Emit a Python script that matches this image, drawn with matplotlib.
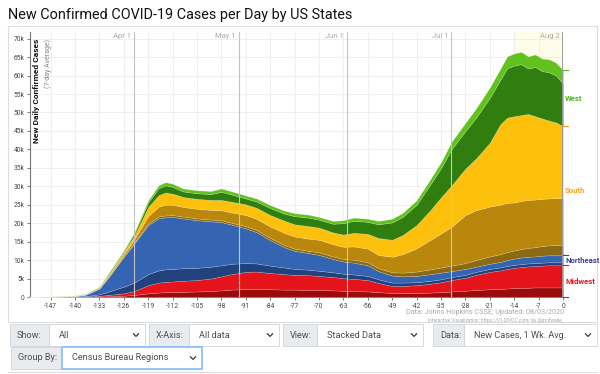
import numpy as np
import matplotlib
matplotlib.use("Agg")
import matplotlib.pyplot as plt
from matplotlib.patches import Rectangle
from matplotlib.lines import Line2D

plt.rcParams['font.family'] = ['Roboto', 'DejaVu Sans']

# days relative to Aug 2 (day 0)
days = [-154, -147, -140, -137, -133, -130, -126, -123, -119, -116, -114, -112,
        -109, -105, -101, -98, -95, -91, -88, -84, -80, -77, -73, -70,
        -66, -63, -60, -56, -53, -49, -46, -42, -38, -35, -32, -28,
        -25, -21, -18, -16, -14, -12, -10, -8, -6, -4, -2, 0]

# region values, thousands of new cases per day (7-day avg)
midwest = [0.01, 0.03, 0.1, 0.15, 0.3, 0.6, 1.0, 1.6, 3.2, 3.9, 4.1, 4.2,
           4.4, 4.6, 5.0, 5.6, 6.2, 6.8, 6.9, 6.5, 6.2, 6.0, 5.9, 5.7,
           5.4, 5.1, 4.9, 4.6, 3.8, 3.0, 3.0, 3.2, 3.6, 4.0, 4.6, 5.2,
           6.0, 6.8, 7.2, 7.6, 7.9, 8.1, 8.3, 8.4, 8.5, 8.6, 8.6, 8.6]
northeast = [0.01, 0.05, 0.15, 0.45, 2.0, 5.2, 9.9, 12.9, 16.3, 17.4, 17.5, 17.5,
             16.9, 16.2, 15.5, 14.7, 13.4, 11.8, 10.7, 8.9, 7.3, 6.5, 6.0, 5.7,
             4.9, 4.5, 4.4, 4.0, 3.2, 2.8, 2.6, 2.5, 2.6, 2.6, 2.4, 2.4,
             2.2, 2.2, 2.3, 2.4, 2.5, 2.6, 2.6, 2.6, 2.7, 2.7, 2.7, 2.7]
south = [0.02, 0.04, 0.1, 0.2, 0.3, 0.7, 1.3, 2.0, 4.9, 6.3, 6.7, 6.3,
         5.8, 5.8, 5.8, 6.0, 6.2, 6.5, 6.6, 6.8, 7.2, 7.2, 7.3, 7.4,
         7.2, 7.3, 8.1, 8.5, 9.0, 9.7, 11.2, 13.8, 17.4, 20.4, 23.2, 27.2,
         29.3, 32.8, 37.3, 38.6, 38.6, 38.6, 38.7, 38.0, 37.2, 36.5, 36.0, 35.0]
west = [0.01, 0.03, 0.05, 0.1, 0.2, 0.5, 0.5, 1.0, 1.8, 2.7, 2.8, 2.7,
        2.3, 2.3, 2.4, 3.1, 2.8, 2.4, 2.5, 2.7, 2.7, 3.0, 3.1, 2.9,
        3.1, 3.9, 4.1, 4.1, 4.6, 5.7, 6.0, 6.7, 8.4, 9.5, 11.8, 12.4,
        13.5, 15.0, 15.0, 16.6, 17.0, 17.1, 15.6, 16.7, 16.2, 16.6, 16.2, 15.1]

# darker state groups inside each region (bottom part of the region)
midwest_dark = [0.0, 0.01, 0.03, 0.05, 0.1, 0.2, 0.35, 0.55, 1.0, 1.2, 1.3, 1.3,
                1.4, 1.5, 1.6, 1.8, 2.0, 2.2, 2.2, 2.1, 2.0, 2.0, 1.9, 1.9,
                1.8, 1.7, 1.6, 1.5, 1.3, 1.1, 1.1, 1.1, 1.2, 1.3, 1.5, 1.7,
                1.9, 2.1, 2.2, 2.3, 2.4, 2.5, 2.5, 2.6, 2.6, 2.6, 2.6, 2.6]
northeast_dark = [0.0, 0.01, 0.03, 0.1, 0.4, 1.0, 1.8, 2.3, 3.0, 3.3, 3.4, 3.4,
                  3.4, 3.3, 3.2, 3.0, 2.8, 2.4, 2.2, 2.0, 1.8, 1.6, 1.5, 1.4,
                  1.3, 1.2, 1.2, 1.1, 1.0, 0.9, 0.9, 0.8, 0.8, 0.8, 0.8, 0.8,
                  0.8, 0.8, 0.8, 0.8, 0.8, 0.8, 0.8, 0.8, 0.8, 0.8, 0.8, 0.8]
south_brown = [0.0, 0.0, 0.01, 0.02, 0.03, 0.07, 0.13, 0.2, 0.4, 0.5, 0.5, 0.5,
               0.5, 0.5, 0.5, 0.5, 0.5, 0.6, 0.6, 0.6, 0.6, 0.6, 0.6, 0.7,
               0.7, 0.7, 0.8, 0.8, 0.8, 0.9, 1.0, 1.2, 1.3, 1.4, 1.5, 1.6,
               1.8, 2.0, 2.1, 2.2, 2.2, 2.3, 2.4, 2.5, 2.6, 2.7, 2.8, 2.8]
south_gold = [0.01, 0.02, 0.04, 0.08, 0.12, 0.3, 0.55, 0.9, 2.0, 2.7, 2.9, 2.8,
              2.6, 2.6, 2.6, 2.7, 2.8, 3.0, 3.0, 3.1, 3.3, 3.3, 3.3, 3.4,
              3.3, 3.3, 3.6, 3.7, 3.6, 4.2, 5.0, 6.3, 8.0, 9.2, 10.5, 13.0,
              13.5, 13.5, 13.4, 13.3, 13.0, 13.0, 13.0, 12.9, 12.8, 12.7, 12.7, 12.6]
west_light = [0.0, 0.01, 0.02, 0.04, 0.08, 0.2, 0.25, 0.4, 0.6, 0.8, 0.85, 0.85,
              0.8, 0.8, 0.8, 0.9, 0.85, 0.8, 0.8, 0.8, 0.8, 0.8, 0.8, 0.75,
              0.75, 0.8, 0.85, 0.85, 0.9, 1.0, 1.1, 1.2, 1.4, 1.6, 2.0, 2.2,
              2.5, 2.8, 3.0, 3.2, 3.3, 3.3, 3.3, 3.4, 3.4, 3.5, 3.5, 3.6]

region_names = ["Midwest", "Northeast", "South", "West"]
region_label_colors = ["#e8141c", "#3d3f9c", "#f5a62a", "#4cb81a"]

months = ["Apr 1", "May 1", "Jun 1", "Jul 1", "Aug 2"]
month_days = [-123, -93, -62, -32, 0]

xticks = list(range(-147, 1, 7))
yticks = list(range(0, 70001, 5000))
ytick_labels = ["0"] + ["%dk" % (v // 1000) for v in yticks[1:]]

title = "New Confirmed COVID-19 Cases per Day by US States"

W, H = 600, 374
fig = plt.figure(figsize=(6, 3.74), dpi=100)


def fx(x):
    return x / W


def fy(y):
    return 1 - y / H


# title and panel frame
fig.text(fx(8), fy(15), title, fontsize=10.4, color="#111111", va="center", ha="left")
fig.patches.append(Rectangle((fx(8), fy(322)), fx(589), 296 / H, transform=fig.transFigure,
                             facecolor="white", edgecolor="#dddddd", lw=0.8, zorder=0))

ax = fig.add_axes([fx(30), fy(297), fx(563 - 30), (297 - 32) / H])
ax.set_zorder(2)

d = np.array(days)
k = 1000.0
mw, ne, so, we = (np.array(a) * k for a in (midwest, northeast, south, west))
mw_d, ne_d, so_b, so_g, we_l = (np.array(a) * k for a in
                                (midwest_dark, northeast_dark, south_brown, south_gold, west_light))

layers = [mw_d, mw - mw_d, ne_d, ne - ne_d, so_b, so_g, so - so_b - so_g, we - we_l, we_l]
layer_colors = ["#9a0b0b", "#e5141a", "#21427d", "#3565b2", "#8c6a12", "#b8870c",
                "#fdc00c", "#317e10", "#5fc21d"]

ax.axvspan(-14, 0, color="#fffdea", zorder=0, lw=0)
ax.stackplot(d, layers, colors=layer_colors, edgecolor=(1, 1, 1, 0.25), linewidth=0.4, zorder=3)

ax.set_xlim(-152.9, 0)
ax.set_ylim(0, 71800)
ax.set_xticks(xticks)
ax.set_xticklabels([str(t) for t in xticks])
ax.set_yticks(yticks)
ax.set_yticklabels(ytick_labels)
ax.tick_params(axis="both", labelsize=4.8, colors="#444444", length=2.5, width=0.5, pad=1.5)
ax.grid(True, color="#ebebf2", lw=0.6, zorder=0)
ax.set_axisbelow(True)
for s in ["top", "right"]:
    ax.spines[s].set_visible(False)
ax.spines["left"].set_color("#777777")
ax.spines["left"].set_linewidth(0.8)
ax.spines["bottom"].set_color("#999999")
ax.spines["bottom"].set_linewidth(0.6)

# month marker lines
for m, md in zip(months, month_days):
    lw = 1.4 if md == 0 else 0.8
    col = "#9a9a9a" if md == 0 else "#c4c4c4"
    ax.axvline(md, color=col, lw=lw, zorder=4)
    ax.text(md - 1.0, 71500, m, fontsize=5.5, color="#aaaaaa", ha="right", va="top", zorder=5)

# y axis title inside the plot
ax.text(0.006, 0.975, "New Daily Confirmed Cases", transform=ax.transAxes, rotation=90,
        fontsize=6, fontweight="bold", color="#111111", ha="left", va="top", zorder=6)
ax.text(0.027, 0.975, "(7-day Average)", transform=ax.transAxes, rotation=90,
        fontsize=5, color="#888888", ha="left", va="top", zorder=6)

# region labels at the right edge, centred on each band at day 0
tops = np.cumsum([mw[-1], ne[-1], so[-1], we[-1]])
bottoms = np.concatenate([[0], tops[:-1]])
for name, col, lo, hi in zip(region_names, region_label_colors, bottoms, tops):
    ax.text(0.6, (lo + hi) / 2, name, fontsize=5.6, fontweight="bold", color=col,
            ha="left", va="center", clip_on=False, zorder=6)
    ax.plot([0, 1.4], [hi, hi], color=col, lw=0.8, clip_on=False, zorder=6)
ax.plot([0, 1.4], [0, 0], color=region_label_colors[0], lw=0.8, clip_on=False, zorder=6)

# credits
fig.text(fx(564), fy(313), "Data: Johns Hopkins CSSE; Updated: 08/03/2020",
         fontsize=5.2, color="#aaaaaa", ha="right", va="center")
fig.text(fx(564), fy(319.8), "Interactive Visualization: https://91-DIVOC.com/ by @profwade_",
         fontsize=3.4, color="#aaaaaa", ha="right", va="center")

# control widgets below the chart
controls = [
    # label, value, x0, label_end, x1, y_top
    ("Show:", "All", 10, 49, 145, 324),
    ("X-Axis:", "All data", 149, 189, 279, 324),
    ("View:", "Stacked Data", 283, 317, 423, 324),
    ("Data:", "New Cases, 1 Wk. Avg.", 433, 464, 597, 324),
    ("Group By:", "Census Bureau Regions", 11, 62, 202, 347),
]
bh = 22
for label, value, x0, xm, x1, yt in controls:
    focus = label == "Group By:"
    fig.patches.append(Rectangle((fx(x0), fy(yt + bh)), fx(xm - x0), bh / H,
                                 transform=fig.transFigure, facecolor="#e9ecef",
                                 edgecolor="#ced4da", lw=0.6))
    fig.patches.append(Rectangle((fx(xm), fy(yt + bh)), fx(x1 - xm), bh / H,
                                 transform=fig.transFigure, facecolor="white",
                                 edgecolor="#80bdff" if focus else "#ced4da",
                                 lw=1.2 if focus else 0.6))
    fig.text(fx(x0 + 7), fy(yt + bh / 2), label, fontsize=6.6, color="#495057",
             ha="left", va="center")
    fig.text(fx(xm + 10), fy(yt + bh / 2), value, fontsize=6.6, color="#495057",
             ha="left", va="center")
    cx = x1 - 9
    cy = yt + bh / 2
    fig.lines.append(Line2D([fx(cx - 2.5), fx(cx), fx(cx + 2.5)], [fy(cy - 1.2), fy(cy + 1.4), fy(cy - 1.2)],
                            transform=fig.transFigure, color="#343a40", lw=0.9))

fig.lines.append(Line2D([fx(8), fx(597)], [fy(372), fy(372)], transform=fig.transFigure,
                        color="#dddddd", lw=0.8))

fig.savefig("out.png", dpi=100)
